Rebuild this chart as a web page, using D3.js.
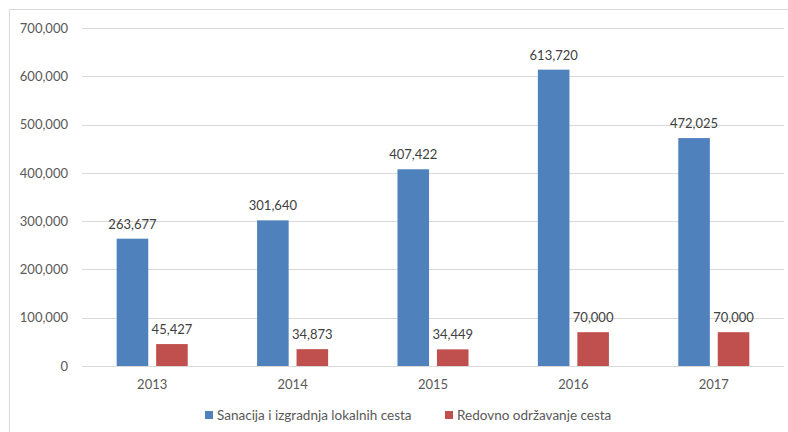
<!DOCTYPE html>
<html>
<head>
<meta charset="utf-8">
<script src="https://cdn.jsdelivr.net/npm/d3@7"></script>
<style>
  body { margin: 0; background: #fff; }
  svg { display: block; }
</style>
</head>
<body>
<svg width="788" height="432"></svg>
<script>
const years = ['2013', '2014', '2015', '2016', '2017']
const sanacija = [263677, 301640, 407422, 613720, 472025]
const redovno = [45427, 34873, 34449, 70000, 70000]
const seriesNames = ['Sanacija i izgradnja lokalnih cesta', 'Redovno održavanje cesta']
const seriesColors = ['#4f81bd', '#c0504d']
const yTicks = [0, 100000, 200000, 300000, 400000, 500000, 600000, 700000]

const width = 788
const height = 432
const margin = { top: 28, right: 4, bottom: 66, left: 82 }

const svg = d3.select('svg')
const font = 'Lato, Calibri, "Open Sans", sans-serif'

// chart border
svg.append('rect')
  .attr('x', 9.5)
  .attr('y', 9.5)
  .attr('width', 800)
  .attr('height', 440)
  .attr('fill', 'none')
  .attr('stroke', '#d9d9d9')

const yScale = d3.scaleLinear()
  .domain([0, 700000])
  .range([height - margin.bottom, margin.top])

const xScale = d3.scaleBand()
  .domain(years)
  .range([margin.left, width - margin.right])
  .paddingInner(0.494)
  .paddingOuter(0.247)

const xInner = d3.scaleBand()
  .domain([0, 1])
  .range([0, xScale.bandwidth()])
  .paddingInner(0.2)

// gridlines
svg.append('g')
  .selectAll('line')
  .data(yTicks)
  .enter().append('line')
  .attr('x1', margin.left)
  .attr('x2', width - margin.right)
  .attr('y1', d => Math.round(yScale(d)) + 0.5)
  .attr('y2', d => Math.round(yScale(d)) + 0.5)
  .attr('stroke', '#d9d9d9')
  .attr('stroke-width', 1)

// y axis labels
const yAxis = d3.axisLeft(yScale)
  .tickValues(yTicks)
  .tickFormat(d3.format(','))
  .tickSize(0)
  .tickPadding(14)

svg.append('g')
  .attr('transform', `translate(${margin.left}, 0)`)
  .call(yAxis)
  .call(g => g.select('.domain').remove())
  .selectAll('text')
  .attr('fill', '#595959')
  .style('font-family', font)
  .style('font-size', '13px')

// x axis labels
const xAxis = d3.axisBottom(xScale).tickSize(0).tickPadding(14)
svg.append('g')
  .attr('transform', `translate(0, ${height - margin.bottom})`)
  .call(xAxis)
  .call(g => g.select('.domain').remove())
  .selectAll('text')
  .attr('fill', '#595959')
  .style('font-family', font)
  .style('font-size', '13px')

const rows = years.map((y, i) => ({ year: y, values: [sanacija[i], redovno[i]] }))

const groups = svg.append('g')
  .selectAll('g')
  .data(rows)
  .enter().append('g')
  .attr('transform', d => `translate(${xScale(d.year)}, 0)`)

groups.selectAll('rect')
  .data(d => d.values.map((v, k) => ({ v, k })))
  .enter().append('rect')
  .attr('x', d => xInner(d.k))
  .attr('width', xInner.bandwidth())
  .attr('y', d => yScale(d.v))
  .attr('height', d => yScale(0) - yScale(d.v))
  .attr('fill', d => seriesColors[d.k])

// value labels
groups.selectAll('text')
  .data(d => d.values.map((v, k) => ({ v, k })))
  .enter().append('text')
  .attr('x', d => xInner(d.k) + xInner.bandwidth() / 2)
  .attr('y', d => yScale(d.v) - 10)
  .attr('text-anchor', 'middle')
  .attr('fill', '#404040')
  .style('font-family', font)
  .style('font-size', '13px')
  .text(d => d3.format(',')(d.v))

// legend
const legendX = [205, 445]
const legend = svg.append('g')
seriesNames.forEach((name, i) => {
  legend.append('rect')
    .attr('x', legendX[i])
    .attr('y', 411)
    .attr('width', 8)
    .attr('height', 8)
    .attr('fill', seriesColors[i])
  legend.append('text')
    .attr('x', legendX[i] + 12)
    .attr('y', 420)
    .attr('fill', '#595959')
    .style('font-family', font)
    .style('font-size', '13.5px')
    .text(name)
})
</script>
</body>
</html>
